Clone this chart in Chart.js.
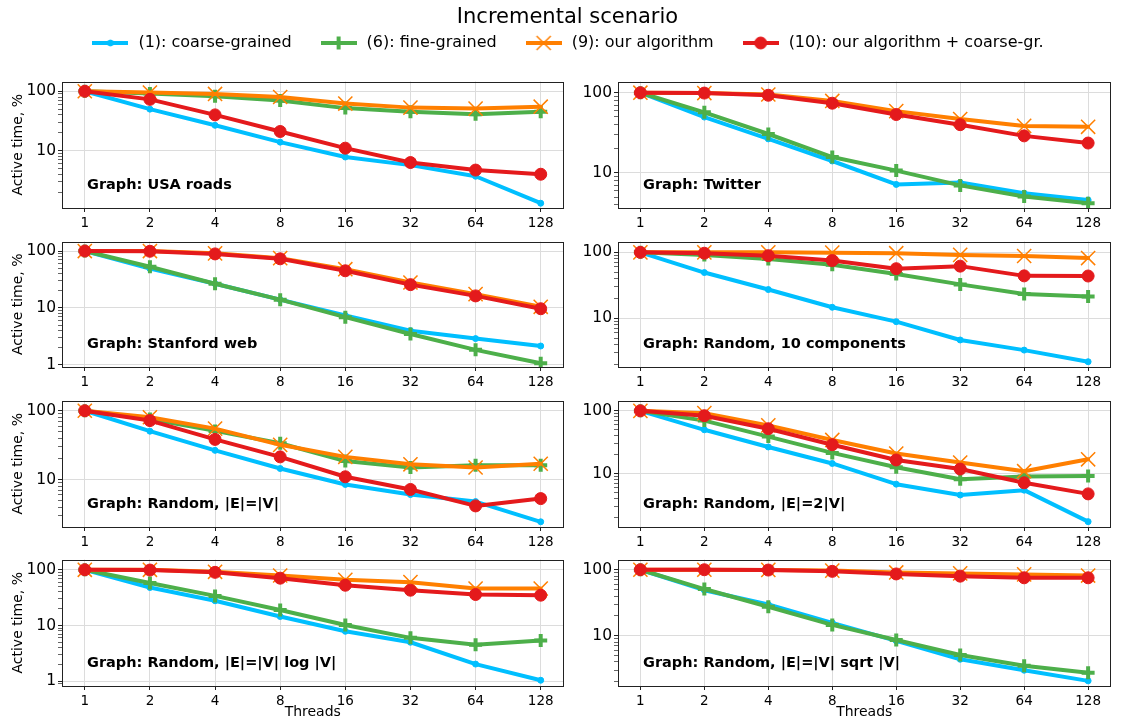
<!DOCTYPE html>
<html>
<head>
<meta charset="utf-8">
<script src="https://cdn.jsdelivr.net/npm/chart.js@4.4.1/dist/chart.umd.min.js"></script>
<style>
  html, body { margin: 0; padding: 0; background: #fff; }
  body { width: 1122px; height: 723px; position: relative; overflow: hidden; }
  canvas { position: absolute; }
</style>
</head>
<body>
<script>
// thread counts on the x axis
const threads = [1, 2, 4, 8, 16, 32, 64, 128]

const seriesNames = [
  "(1): coarse-grained",
  "(6): fine-grained",
  "(9): our algorithm",
  "(10): our algorithm + coarse-gr.",
]

const graphNames = [
  "Graph: USA roads",
  "Graph: Twitter",
  "Graph: Stanford web",
  "Graph: Random, 10 components",
  "Graph: Random, |E|=|V|",
  "Graph: Random, |E|=2|V|",
  "Graph: Random, |E|=|V| log |V|",
  "Graph: Random, |E|=|V| sqrt |V|",
]

// active time, %
const usaCoarse = [100, 50, 26.7, 13.9, 7.8, 5.7, 3.7, 1.3]
const usaFine = [100, 92, 82, 70, 52, 45, 41, 45]
const usaOurs = [100, 95, 90, 80, 62, 53, 51, 55]
const usaOursCoarse = [100, 73, 40, 21, 11, 6.3, 4.7, 4.0]

const twitterCoarse = [100, 49.7, 26.6, 14.1, 7.2, 7.6, 5.6, 4.6]
const twitterFine = [100, 57, 30.6, 15.8, 10.7, 7.0, 5.1, 4.2]
const twitterOurs = [100, 99, 95, 79, 59, 47, 38.6, 37.6]
const twitterOursCoarse = [100, 99, 93, 74, 53.5, 40, 29, 23.6]

const stanfordCoarse = [100, 49, 26.7, 14, 7.4, 4.0, 2.9, 2.15]
const stanfordFine = [100, 53, 26.7, 14, 6.9, 3.5, 1.84, 1.07]
const stanfordOurs = [100, 100, 91, 75, 48, 28, 17.5, 10.5]
const stanfordOursCoarse = [100, 99, 89, 73, 45, 25.7, 16.3, 9.7]

const comp10Coarse = [100, 49.4, 27.3, 14.7, 8.9, 4.7, 3.3, 2.2]
const comp10Fine = [100, 91.5, 79, 65, 47, 32.7, 23.4, 21.4]
const comp10Ours = [100, 100, 100, 99, 97, 91.5, 88, 82]
const comp10OursCoarse = [100, 97, 89, 75, 56.5, 61.8, 44, 43.8]

const e1Coarse = [100, 50.5, 26.6, 14.5, 8.5, 6.06, 4.8, 2.44]
const e1Fine = [100, 76, 51, 33.7, 18.6, 15, 16.2, 16.2]
const e1Ours = [100, 80.5, 55, 32, 21.4, 16.7, 15, 17]
const e1OursCoarse = [100, 72, 38.4, 21.4, 11, 7.2, 4.15, 5.3]

const e2Coarse = [100, 50, 26.7, 14.6, 6.85, 4.6, 5.5, 1.74]
const e2Fine = [100, 70, 39, 21.5, 12.7, 8.2, 9.1, 9.2]
const e2Ours = [100, 92, 58.8, 34.5, 21, 15.1, 11, 17]
const e2OursCoarse = [100, 83.8, 52, 29, 16.6, 11.9, 7.2, 4.8]

const eLogCoarse = [100, 48, 27.8, 14.5, 7.87, 5.0, 2.03, 1.04]
const eLogFine = [100, 57.9, 34, 19, 10.2, 6.0, 4.5, 5.4]
const eLogOurs = [100, 100, 92, 79, 66, 60, 46, 46]
const eLogOursCoarse = [100, 99, 90, 70.7, 52.8, 43, 36, 35]

const eSqrtCoarse = [100, 49, 29.8, 15.7, 8.35, 4.4, 3.0, 2.07]
const eSqrtFine = [100, 51, 27.5, 14.6, 8.6, 5.1, 3.5, 2.75]
const eSqrtOurs = [100, 100, 99.5, 97, 91, 88, 85, 81.7]
const eSqrtOursCoarse = [100, 100, 99, 94.5, 86.4, 80, 75.5, 75.5]

// y axis limits of each panel
const yRanges = [
  [1.08, 146], [3.66, 138],
  [0.92, 147], [1.83, 146],
  [2.05, 141], [1.43, 146],
  [0.82, 153], [1.73, 143],
]

const graphs = [
  [usaCoarse, usaFine, usaOurs, usaOursCoarse],
  [twitterCoarse, twitterFine, twitterOurs, twitterOursCoarse],
  [stanfordCoarse, stanfordFine, stanfordOurs, stanfordOursCoarse],
  [comp10Coarse, comp10Fine, comp10Ours, comp10OursCoarse],
  [e1Coarse, e1Fine, e1Ours, e1OursCoarse],
  [e2Coarse, e2Fine, e2Ours, e2OursCoarse],
  [eLogCoarse, eLogFine, eLogOurs, eLogOursCoarse],
  [eSqrtCoarse, eSqrtFine, eSqrtOurs, eSqrtOursCoarse],
]

const FONT = "'DejaVu Sans', 'Noto Sans', sans-serif"
Chart.defaults.font.family = FONT
Chart.defaults.color = "#000"

// style of each series: colour, marker
const styles = [
  { color: "#00bfff", pointStyle: "circle", radius: 3, pointBorder: 1, width: 4 },
  { color: "#4daf4a", pointStyle: "cross", radius: 6.5, pointBorder: 4, width: 4 },
  { color: "#ff7f00", pointStyle: "crossRot", radius: 10, pointBorder: 1.5, width: 4 },
  { color: "#e41a1c", pointStyle: "circle", radius: 6, pointBorder: 1, width: 4 },
]

function addCanvas(left, top, width, height) {
  const c = document.createElement("canvas")
  c.width = width
  c.height = height
  c.style.left = left + "px"
  c.style.top = top + "px"
  c.style.width = width + "px"
  c.style.height = height + "px"
  document.body.appendChild(c)
  return c
}

// box around each panel
const framePlugin = {
  id: "frame",
  afterDatasetsDraw(chart) {
    const { ctx, chartArea: a } = chart
    ctx.save()
    ctx.strokeStyle = "#222"
    ctx.lineWidth = 1
    ctx.strokeRect(Math.round(a.left) + 0.5, Math.round(a.top) + 0.5, Math.round(a.right - a.left) - 1, Math.round(a.bottom - a.top) - 1)
    ctx.restore()
  },
}

// "Graph: ..." text in the lower left corner
const graphLabelPlugin = {
  id: "graphLabel",
  afterDraw(chart, args, opts) {
    const { ctx, chartArea: a } = chart
    ctx.save()
    ctx.font = "bold 14.5px " + FONT
    ctx.fillStyle = "#000"
    ctx.textAlign = "left"
    ctx.textBaseline = "alphabetic"
    ctx.fillText(opts.text, a.left + 25, a.bottom - 19)
    ctx.restore()
  },
}

function logTicks(min, max) {
  const out = []
  for (let e = Math.floor(Math.log10(min)); e <= Math.ceil(Math.log10(max)); e++) {
    for (let m = 1; m <= 9; m++) {
      const v = m * Math.pow(10, e)
      if (v >= min && v <= max) out.push({ value: v, major: m === 1 })
    }
  }
  return out
}

const rowTops = [77, 237, 396, 555]
const rowBottoms = [208, 367, 527, 686]

function panel(idx) {
  const col = idx % 2
  const row = Math.floor(idx / 2)
  const isLeft = col === 0
  const isBottom = row === 3
  const left = isLeft ? 0 : 575
  const width = isLeft ? 575 : 547
  const top = rowTops[row] - 7
  const xAxisH = isBottom ? 723 - rowBottoms[row] : 23
  const height = rowBottoms[row] + xAxisH - top

  const canvas = addCanvas(left, top, width, height)
  const datasets = graphs[idx].map((vals, s) => ({
    label: seriesNames[s],
    data: threads.map((t, i) => ({ x: t, y: vals[i] })),
    borderColor: styles[s].color,
    backgroundColor: styles[s].color,
    borderWidth: styles[s].width,
    borderJoinStyle: "round",
    borderCapStyle: "round",
    pointStyle: styles[s].pointStyle,
    pointRadius: styles[s].radius,
    pointBorderWidth: styles[s].pointBorder,
    pointBorderColor: styles[s].color,
    pointBackgroundColor: styles[s].color,
    tension: 0,
    order: 4 - s,
  }))

  new Chart(canvas, {
    type: "line",
    data: { datasets },
    options: {
      responsive: false,
      animation: false,
      devicePixelRatio: 1,
      layout: { padding: { top: 7, right: isLeft ? 7 : 1, left: 0, bottom: 0 } },
      plugins: {
        legend: { display: false },
        tooltip: { enabled: false },
        graphLabel: { text: graphNames[idx] },
      },
      scales: {
        x: {
          type: "logarithmic",
          bounds: "data",
          min: Math.pow(2, -0.35),
          max: Math.pow(2, 7.35),
          afterBuildTicks: (ax) => { ax.ticks = threads.map((v) => ({ value: v, major: true })) },
          afterFit: (ax) => {
            ax.height = xAxisH
            ax.paddingLeft = 0
            ax.paddingRight = 0
            ax.paddingTop = 0
            ax.paddingBottom = 0
          },
          ticks: {
            autoSkip: false,
            maxRotation: 0,
            padding: 3,
            color: "#000",
            font: { size: 13.5 },
            callback: (v) => String(v),
          },
          grid: { color: "#dcdcdc", tickColor: "#222", tickLength: 4 },
          border: { display: false },
          title: {
            display: isBottom,
            text: "Threads",
            color: "#000",
            font: { size: 14 },
            padding: { top: 0, bottom: 2.5 },
          },
        },
        y: {
          type: "logarithmic",
          bounds: "data",
          min: yRanges[idx][0],
          max: yRanges[idx][1],
          afterBuildTicks: (ax) => { ax.ticks = logTicks(yRanges[idx][0], yRanges[idx][1]) },
          afterFit: (ax) => {
            ax.width = isLeft ? 62 : 43
            ax.paddingTop = 0
            ax.paddingBottom = 0
            ax.paddingLeft = 0
            ax.paddingRight = 0
          },
          ticks: {
            autoSkip: false,
            padding: 2,
            color: "#000",
            font: { size: 15.5 },
            callback: (v, i, t) => (t[i].major ? String(v) : ""),
          },
          grid: {
            color: (c) => (c.tick && c.tick.major ? "#dcdcdc" : "rgba(0,0,0,0)"),
            tickColor: (c) => (c.tick && c.tick.major ? "#222" : "#666"),
            tickLength: 4,
          },
          border: { display: false },
          title: {
            display: isLeft,
            text: "Active time, %",
            color: "#000",
            font: { size: 14 },
            padding: { top: 10, bottom: 0 },
          },
        },
      },
    },
    plugins: [framePlugin, graphLabelPlugin],
  })
}

// small line + marker pictures for the legend
function legendIcon(st) {
  const c = document.createElement("canvas")
  c.width = 36
  c.height = 22
  const ctx = c.getContext("2d")
  const cx = 18, cy = 11
  ctx.strokeStyle = st.color
  ctx.fillStyle = st.color
  ctx.lineWidth = st.width
  ctx.beginPath()
  ctx.moveTo(0, cy)
  ctx.lineTo(36, cy)
  ctx.stroke()
  const r = st.radius
  ctx.lineWidth = st.pointBorder
  ctx.beginPath()
  if (st.pointStyle === "circle") {
    ctx.arc(cx, cy, r, 0, Math.PI * 2)
    ctx.fill()
    ctx.stroke()
  } else if (st.pointStyle === "cross") {
    ctx.moveTo(cx - r, cy); ctx.lineTo(cx + r, cy)
    ctx.moveTo(cx, cy - r); ctx.lineTo(cx, cy + r)
    ctx.stroke()
  } else {
    const d = r * Math.SQRT1_2
    ctx.moveTo(cx - d, cy - d); ctx.lineTo(cx + d, cy + d)
    ctx.moveTo(cx - d, cy + d); ctx.lineTo(cx + d, cy - d)
    ctx.stroke()
  }
  return c
}

const suptitlePlugin = {
  id: "suptitle",
  afterDraw(chart) {
    const { ctx } = chart
    ctx.save()
    ctx.font = "21px " + FONT
    ctx.fillStyle = "#000"
    ctx.textAlign = "center"
    ctx.textBaseline = "alphabetic"
    ctx.fillText("Incremental scenario", 567.5, 23)
    ctx.restore()
  },
}

function header() {
  const canvas = addCanvas(0, 0, 1122, 120)
  const icons = styles.map(legendIcon)
  new Chart(canvas, {
    type: "line",
    data: { datasets: seriesNames.map((n) => ({ label: n, data: [] })) },
    options: {
      responsive: false,
      animation: false,
      devicePixelRatio: 1,
      layout: { padding: { top: 8, left: 12 } },
      scales: { x: { display: false }, y: { display: false } },
      plugins: {
        tooltip: { enabled: false },
        legend: {
          display: true,
          position: "top",
          labels: {
            usePointStyle: true,
            pointStyleWidth: 40,
            padding: 27,
            color: "#000",
            font: { size: 16 },
            generateLabels: () => seriesNames.map((n, i) => ({
              text: n,
              pointStyle: icons[i],
              fillStyle: "rgba(0,0,0,0)",
              strokeStyle: "rgba(0,0,0,0)",
              lineWidth: 0,
              hidden: false,
              datasetIndex: i,
              fontColor: "#000",
            })),
          },
        },
      },
    },
    plugins: [suptitlePlugin],
  })
}

header()
for (let i = 0; i < 8; i++) panel(i)
</script>
</body>
</html>
